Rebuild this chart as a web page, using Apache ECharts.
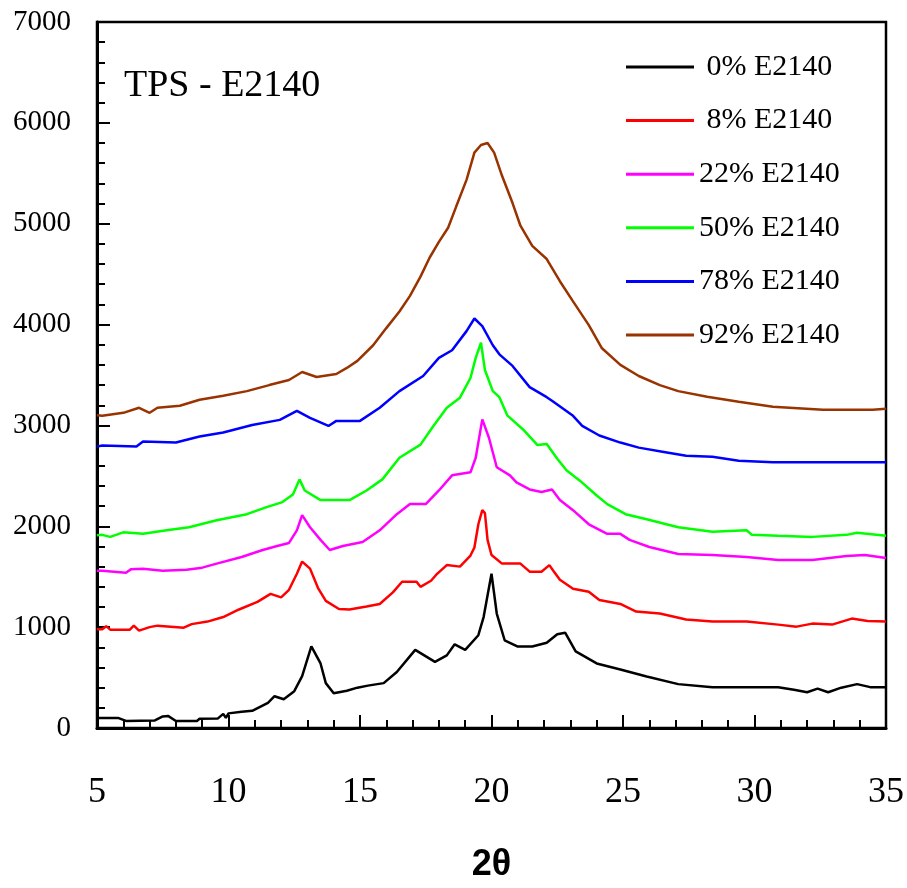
<!DOCTYPE html>
<html>
<head>
<meta charset="utf-8">
<script src="https://cdn.jsdelivr.net/npm/echarts@6/dist/echarts.min.js"></script>
<style>html,body{margin:0;padding:0;background:#fff}#c{width:907px;height:888px}</style>
</head>
<body>
<div id="c"></div>
<script>
var seriesNames = [' 0% E2140', ' 8% E2140', '22% E2140', '50% E2140', '78% E2140', '92% E2140'];
var seriesColors = ['#000000', '#ff0000', '#ff00ff', '#00ff00', '#0000ff', '#993300'];
var xTicks = [5, 10, 15, 20, 25, 30, 35];
var yTicks = [0, 1000, 2000, 3000, 4000, 5000, 6000, 7000];

var e0 = [[5.0,100],[5.8,100],[6.1,70],[7.2,75],[7.5,115],[7.7,120],[8.0,70],[8.8,70],[8.9,92],[9.6,95],[9.8,140],[9.9,100],[10.0,145],[10.5,160],[10.9,170],[11.5,250],[11.75,315],[12.1,285],[12.5,365],[12.8,515],[13.15,810],[13.5,640],[13.7,445],[14.0,345],[14.5,370],[14.9,400],[15.3,420],[15.9,445],[16.4,555],[17.1,775],[17.85,655],[18.3,720],[18.6,830],[19.0,775],[19.5,920],[19.7,1100],[20.0,1530],[20.2,1135],[20.5,870],[21.0,808],[21.55,808],[22.1,845],[22.5,930],[22.8,945],[23.2,760],[24.0,640],[24.9,580],[25.9,510],[27.1,435],[28.4,405],[29.7,405],[30.9,405],[31.5,380],[32.0,355],[32.4,390],[32.8,355],[33.3,400],[33.9,435],[34.4,405],[35.0,405]];
var e8 = [[5.0,980],[5.2,980],[5.35,1010],[5.5,975],[6.25,975],[6.4,1015],[6.6,965],[7.0,1000],[7.3,1015],[8.3,995],[8.6,1030],[9.2,1055],[9.8,1100],[10.4,1175],[11.1,1250],[11.6,1330],[12.0,1295],[12.3,1370],[12.6,1530],[12.8,1650],[13.1,1580],[13.4,1390],[13.7,1260],[14.2,1180],[14.6,1175],[15.25,1205],[15.75,1230],[16.25,1345],[16.6,1450],[17.15,1450],[17.3,1400],[17.7,1460],[17.9,1520],[18.3,1615],[18.8,1600],[19.2,1710],[19.35,1790],[19.5,2020],[19.65,2160],[19.75,2130],[19.85,1865],[20.0,1715],[20.4,1630],[21.1,1630],[21.45,1550],[21.9,1550],[22.2,1615],[22.35,1560],[22.6,1470],[23.1,1380],[23.7,1350],[24.1,1270],[24.9,1230],[25.5,1155],[26.4,1135],[27.4,1075],[28.4,1055],[29.7,1055],[30.9,1025],[31.6,1005],[32.2,1035],[32.95,1025],[33.7,1085],[34.3,1060],[35.0,1055]];
var e22 = [[5.0,1560],[5.2,1560],[6.1,1540],[6.3,1575],[6.75,1580],[7.5,1560],[8.4,1570],[9.0,1590],[9.55,1630],[10.5,1695],[11.3,1765],[11.85,1805],[12.3,1835],[12.6,1960],[12.8,2110],[13.1,1990],[13.5,1865],[13.85,1765],[14.35,1805],[15.1,1845],[15.75,1960],[16.4,2120],[16.9,2220],[17.5,2220],[18.0,2355],[18.5,2505],[19.2,2535],[19.4,2680],[19.65,3060],[19.9,2880],[20.2,2585],[20.7,2505],[20.95,2435],[21.45,2365],[21.9,2340],[22.3,2365],[22.6,2260],[23.1,2160],[23.7,2020],[24.4,1925],[24.9,1925],[25.25,1865],[26.0,1795],[27.1,1725],[28.4,1715],[29.7,1695],[30.9,1665],[32.2,1665],[33.5,1705],[34.2,1715],[35.0,1685]];
var e50 = [[5.0,1910],[5.2,1915],[5.5,1895],[6.0,1940],[6.75,1925],[7.65,1960],[8.5,1990],[9.55,2060],[10.7,2120],[11.45,2190],[12.05,2240],[12.45,2315],[12.7,2465],[12.9,2355],[13.5,2260],[14.6,2260],[15.25,2355],[15.85,2465],[16.5,2680],[17.3,2810],[17.75,2980],[18.3,3175],[18.8,3275],[19.2,3470],[19.4,3670],[19.6,3820],[19.75,3550],[20.05,3340],[20.3,3280],[20.6,3100],[21.2,2960],[21.75,2805],[22.1,2815],[22.5,2670],[22.85,2555],[23.35,2455],[24.0,2305],[24.4,2220],[25.1,2120],[25.9,2070],[27.1,1990],[28.4,1945],[29.7,1960],[29.9,1915],[30.9,1905],[32.2,1895],[33.5,1915],[33.9,1935],[35.0,1905]];
var e78 = [[5.0,2790],[5.2,2800],[6.5,2790],[6.75,2840],[8.0,2830],[8.9,2890],[9.8,2930],[10.9,3005],[11.95,3055],[12.6,3145],[13.1,3075],[13.8,2995],[14.1,3045],[15.0,3045],[15.75,3175],[16.5,3340],[17.4,3490],[18.0,3670],[18.5,3745],[19.05,3935],[19.35,4060],[19.65,3985],[20.05,3795],[20.3,3705],[20.8,3590],[21.45,3380],[22.1,3280],[22.3,3245],[23.1,3095],[23.45,2995],[24.1,2900],[24.9,2830],[25.6,2780],[26.5,2740],[27.4,2700],[28.4,2690],[29.4,2650],[30.7,2635],[32.6,2635],[35.0,2635]];
var e92 = [[5.0,3100],[5.2,3095],[6.0,3125],[6.6,3175],[7.0,3125],[7.3,3175],[8.15,3195],[8.9,3255],[9.8,3295],[10.7,3340],[11.55,3400],[12.3,3450],[12.8,3530],[13.35,3480],[14.1,3510],[14.5,3570],[14.9,3640],[15.5,3795],[16.0,3965],[16.5,4130],[16.9,4285],[17.3,4475],[17.65,4665],[18.0,4820],[18.35,4960],[18.65,5165],[19.05,5435],[19.35,5705],[19.6,5780],[19.85,5800],[20.1,5705],[20.4,5475],[20.8,5205],[21.1,4980],[21.55,4780],[22.1,4650],[22.6,4430],[23.1,4230],[23.7,3995],[24.2,3765],[24.9,3600],[25.6,3490],[26.4,3400],[27.1,3340],[28.2,3285],[29.4,3235],[30.7,3185],[32.6,3155],[34.5,3155],[35.0,3165]];
var seriesData = [e0, e8, e22, e50, e78, e92];

var serif = 'Liberation Serif, Times New Roman, serif';
var chart = echarts.init(document.getElementById('c'), null, {renderer: 'canvas'});
var series = seriesData.map(function (d, i) {
  return {
    name: seriesNames[i], type: 'line', data: d, showSymbol: false, symbol: 'none',
    lineStyle: {color: seriesColors[i], width: 2.5}, itemStyle: {color: seriesColors[i]},
    animation: false, z: 3
  };
});
chart.setOption({
  backgroundColor: '#ffffff',
  animation: false,
  title: {text: 'TPS - E2140', left: 119, top: 62, textStyle: {fontFamily: serif, fontSize: 38, fontWeight: 'normal', color: '#000', lineHeight: 38}},
  legend: {
    orient: 'vertical', left: 621, top: 47, itemWidth: 68, itemHeight: 3, itemGap: 23.6, icon: 'rect',
    data: seriesNames,
    textStyle: {fontFamily: serif, fontSize: 30, color: '#000', lineHeight: 30}
  },
  grid: {left: 97, right: 20, top: 22, bottom: 156, show: true, borderColor: '#000', borderWidth: 2.5, backgroundColor: 'transparent'},
  xAxis: {
    type: 'value', min: xTicks[0], max: xTicks[xTicks.length - 1], interval: 5,
    name: '2θ', nameLocation: 'middle', nameGap: 119,
    nameTextStyle: {fontFamily: 'Liberation Sans, Arial, sans-serif', fontSize: 36, fontWeight: 'bold', color: '#000'},
    axisLine: {show: true, onZero: false, lineStyle: {color: '#000', width: 3}},
    axisTick: {show: true, inside: true, length: 13, lineStyle: {color: '#000', width: 2}},
    minorTick: {show: true, splitNumber: 5, length: 8, lineStyle: {color: '#000', width: 2}},
    axisLabel: {fontFamily: serif, fontSize: 36, color: '#000', margin: 47, formatter: function (v) { return String(v); }},
    splitLine: {show: false}
  },
  yAxis: {
    type: 'value', min: yTicks[0], max: yTicks[yTicks.length - 1], interval: 1000,
    axisLine: {show: true, onZero: false, lineStyle: {color: '#000', width: 3}},
    axisTick: {show: true, inside: true, length: 13, lineStyle: {color: '#000', width: 2}},
    minorTick: {show: true, splitNumber: 5, length: 8, lineStyle: {color: '#000', width: 2}},
    axisLabel: {fontFamily: serif, fontSize: 29, color: '#000', margin: 26, formatter: function (v) { return String(v); }},
    splitLine: {show: false}
  },
  series: series
});
</script>
</body>
</html>
